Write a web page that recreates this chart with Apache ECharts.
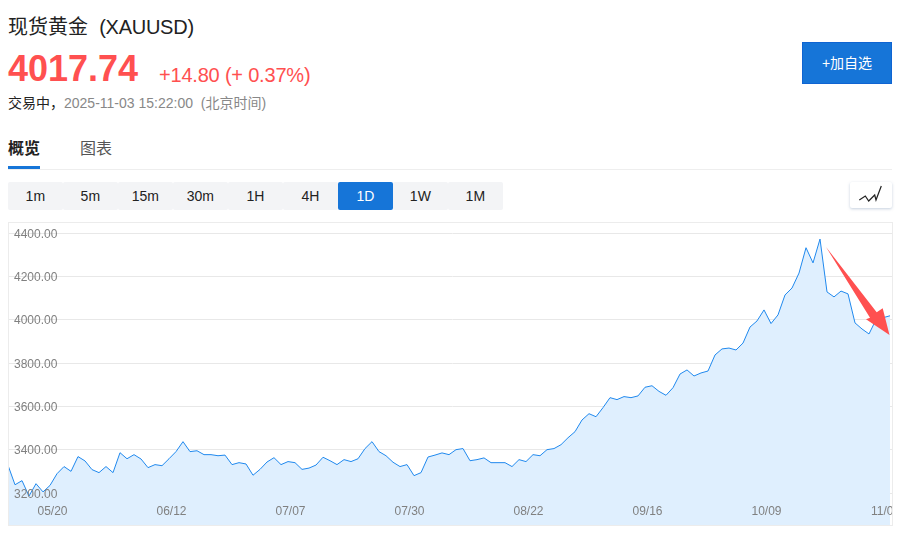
<!DOCTYPE html>
<html>
<head>
<meta charset="utf-8">
<title>现货黄金 (XAUUSD)</title>
<script src="https://cdn.jsdelivr.net/npm/echarts@6/dist/echarts.min.js"></script>
<style>
  html, body { margin: 0; padding: 0; background: #fff; }
  body { width: 904px; height: 533px; position: relative; overflow: hidden;
         font-family: "Liberation Sans", "Noto Sans CJK SC", sans-serif; color: #222; }
  .abs { position: absolute; white-space: pre; }
  .period { position: absolute; top: 182px; width: 54.7px; height: 28px; line-height: 28px; text-align: center;
            font-size: 14px; background: #f3f4f6; border-radius: 2px; color: #222; }
  .period.on { background: #1675d8; color: #fff; }
  #plot { position: absolute; left: 8px; top: 222px; width: 885px; height: 304px; overflow: hidden; }
  #main { position: absolute; left: 0; top: 0; width: 889px; height: 316px; }
  #frame { position: absolute; left: 8px; top: 222px; width: 885px; height: 304px; box-sizing: border-box;
           border: 1px solid #ececec; pointer-events: none; }
</style>
</head>
<body>
<div class="abs" style="left:8px;top:14px;font-size:20px;line-height:26px;">现货黄金  <span style="letter-spacing:-0.25px;">(XAUUSD)</span></div>
<div class="abs" style="left:8px;top:48px;font-size:36px;line-height:42px;font-weight:bold;color:#ff5050;">4017.74</div>
<div class="abs" style="left:159px;top:62px;font-size:20px;line-height:26px;color:#ff5050;letter-spacing:-0.2px;">+14.80 (+ 0.37%)</div>
<div class="abs" style="left:8px;top:94px;font-size:14px;line-height:18px;">交易中，<span style="color:#888;">2025-11-03 15:22:00  (北京时间)</span></div>
<div class="abs" style="left:8px;top:138px;font-size:16px;line-height:22px;font-weight:bold;">概览</div>
<div class="abs" style="left:80px;top:138px;font-size:16px;line-height:22px;color:#555;">图表</div>
<div class="abs" style="left:8px;top:166px;width:32px;height:3px;background:#1675d8;"></div>
<div class="abs" style="left:40px;top:169px;width:852px;height:1px;background:#eee;"></div>
<div class="abs" style="left:8px;top:169px;width:32px;height:1px;background:#eee;"></div>
<div class="abs" style="left:802px;top:42px;width:90px;height:42px;box-sizing:border-box;border:1px solid #0f64d2;background:#1675d8;color:#fff;font-size:14px;line-height:40px;text-align:center;">+加自选</div>
<div id="periods"></div>
<div class="abs" style="left:850px;top:182px;width:42px;height:26px;background:#fff;border-radius:2px;box-shadow:0 1px 3px rgba(90,120,160,.35);"><svg width="42" height="26" style="position:absolute;left:0;top:0;"><polyline points="9.3,18 15.3,14 18.7,19 24.7,13 26,18 31.3,4" fill="none" stroke="#222" stroke-width="1.2"/></svg></div>
<div id="plot"><div id="main"></div></div>
<div id="frame"></div>

<script>
var periods = ['1m', '5m', '15m', '30m', '1H', '4H', '1D', '1W', '1M'];
var activePeriod = '1D';

var dates = [
  '05/12','05/13','05/14','05/15','05/16','05/19','05/20','05/21','05/22','05/23',
  '05/26','05/27','05/28','05/29','05/30','06/02','06/03','06/04','06/05','06/06',
  '06/09','06/10','06/11','06/12','06/13','06/16','06/17','06/18','06/19','06/20',
  '06/23','06/24','06/25','06/26','06/27','06/30','07/01','07/02','07/03','07/04',
  '07/07','07/08','07/09','07/10','07/11','07/14','07/15','07/16','07/17','07/18',
  '07/21','07/22','07/23','07/24','07/25','07/28','07/29','07/30','07/31','08/01',
  '08/04','08/05','08/06','08/07','08/08','08/11','08/12','08/13','08/14','08/15',
  '08/18','08/19','08/20','08/21','08/22','08/25','08/26','08/27','08/28','08/29',
  '09/01','09/02','09/03','09/04','09/05','09/08','09/09','09/10','09/11','09/12',
  '09/15','09/16','09/17','09/18','09/19','09/22','09/23','09/24','09/25','09/26',
  '09/29','09/30','10/01','10/02','10/03','10/06','10/07','10/08','10/09','10/10',
  '10/13','10/14','10/15','10/16','10/17','10/20','10/21','10/22','10/23','10/24',
  '10/27','10/28','10/29','10/30','10/31','11/02','11/03',''
];
var prices = [
  3328,3238,3257,3186,3243,3205,3235,3289,3322,3300,
  3368,3348,3308,3294,3322,3294,3386,3358,3377,3357,
  3317,3331,3326,3358,3391,3437,3391,3395,3377,3377,
  3372,3375,3331,3340,3334,3282,3309,3343,3363,3331,
  3345,3340,3309,3315,3329,3365,3349,3331,3354,3345,
  3358,3405,3437,3391,3372,3342,3322,3331,3280,3294,
  3366,3375,3385,3377,3400,3405,3349,3354,3362,3340,
  3340,3340,3322,3354,3345,3377,3372,3400,3405,3423,
  3455,3483,3537,3566,3552,3594,3640,3631,3645,3640,
  3648,3688,3695,3669,3651,3686,3749,3768,3740,3754,
  3763,3837,3865,3869,3860,3892,3966,3994,4045,3982,
  4022,4114,4146,4215,4332,4262,4372,4128,4105,4132,
  4119,3985,3957,3934,4000,4009,4018,null
];
// 箭头，相对图表容器
var arrowPoints = [[818,25],[868.7,90.3],[874.7,86.3],[881.5,113],[858,97.3],[862,95.7]];

periods.forEach(function (p, i) {
  var el = document.createElement('div');
  el.className = 'period' + (p === activePeriod ? ' on' : '');
  el.style.left = (8 + i * 55) + 'px';
  el.textContent = p;
  document.getElementById('periods').appendChild(el);
});

var myChart = echarts.init(document.getElementById('main'));
var labelFont = { color: '#808080', fontSize: 12, fontFamily: '"Liberation Sans", Arial, sans-serif' };
var option = {
  animation: false,
  grid: { left: 0, right: 0, top: 11, height: 303.33, outerBoundsMode: 'none' },
  xAxis: {
    type: 'category',
    boundaryGap: false,
    data: dates,
    z: 5,
    axisLine: { show: false },
    axisTick: { show: false },
    splitLine: { show: false },
    axisLabel: Object.assign({
      inside: true,
      margin: 19,
      padding: [0, 0, 0, 5],
      hideOverlap: false,
      interval: function (index) { return (index - 6) % 17 === 0; }
    }, labelFont)
  },
  yAxis: [
    {
      type: 'value', min: 3000, max: 4400, interval: 200,
      axisLine: { show: false }, axisTick: { show: false }, axisLabel: { show: false },
      splitLine: { lineStyle: { color: '#e8e8e8', width: 1 } }
    },
    {
      type: 'value', position: 'left', min: 3000, max: 4400, interval: 200, z: 5,
      axisLine: { show: false }, axisTick: { show: false }, splitLine: { show: false },
      axisLabel: Object.assign({
        inside: true,
        margin: 6,
        verticalAlign: 'top',
        lineHeight: 3,
        showMinLabel: false,
        formatter: function (v) { return v.toFixed(2); }
      }, labelFont)
    }
  ],
  series: [{
    type: 'line',
    data: prices,
    symbol: 'none',
    smooth: false,
    lineStyle: { color: '#2089ee', width: 1 },
    areaStyle: { color: '#dfeffe', opacity: 1 }
  }],
  graphic: [{
    type: 'polygon',
    z: 100,
    shape: { points: arrowPoints },
    style: { fill: '#ff5050' }
  }]
};
myChart.setOption(option);
</script>
</body>
</html>
